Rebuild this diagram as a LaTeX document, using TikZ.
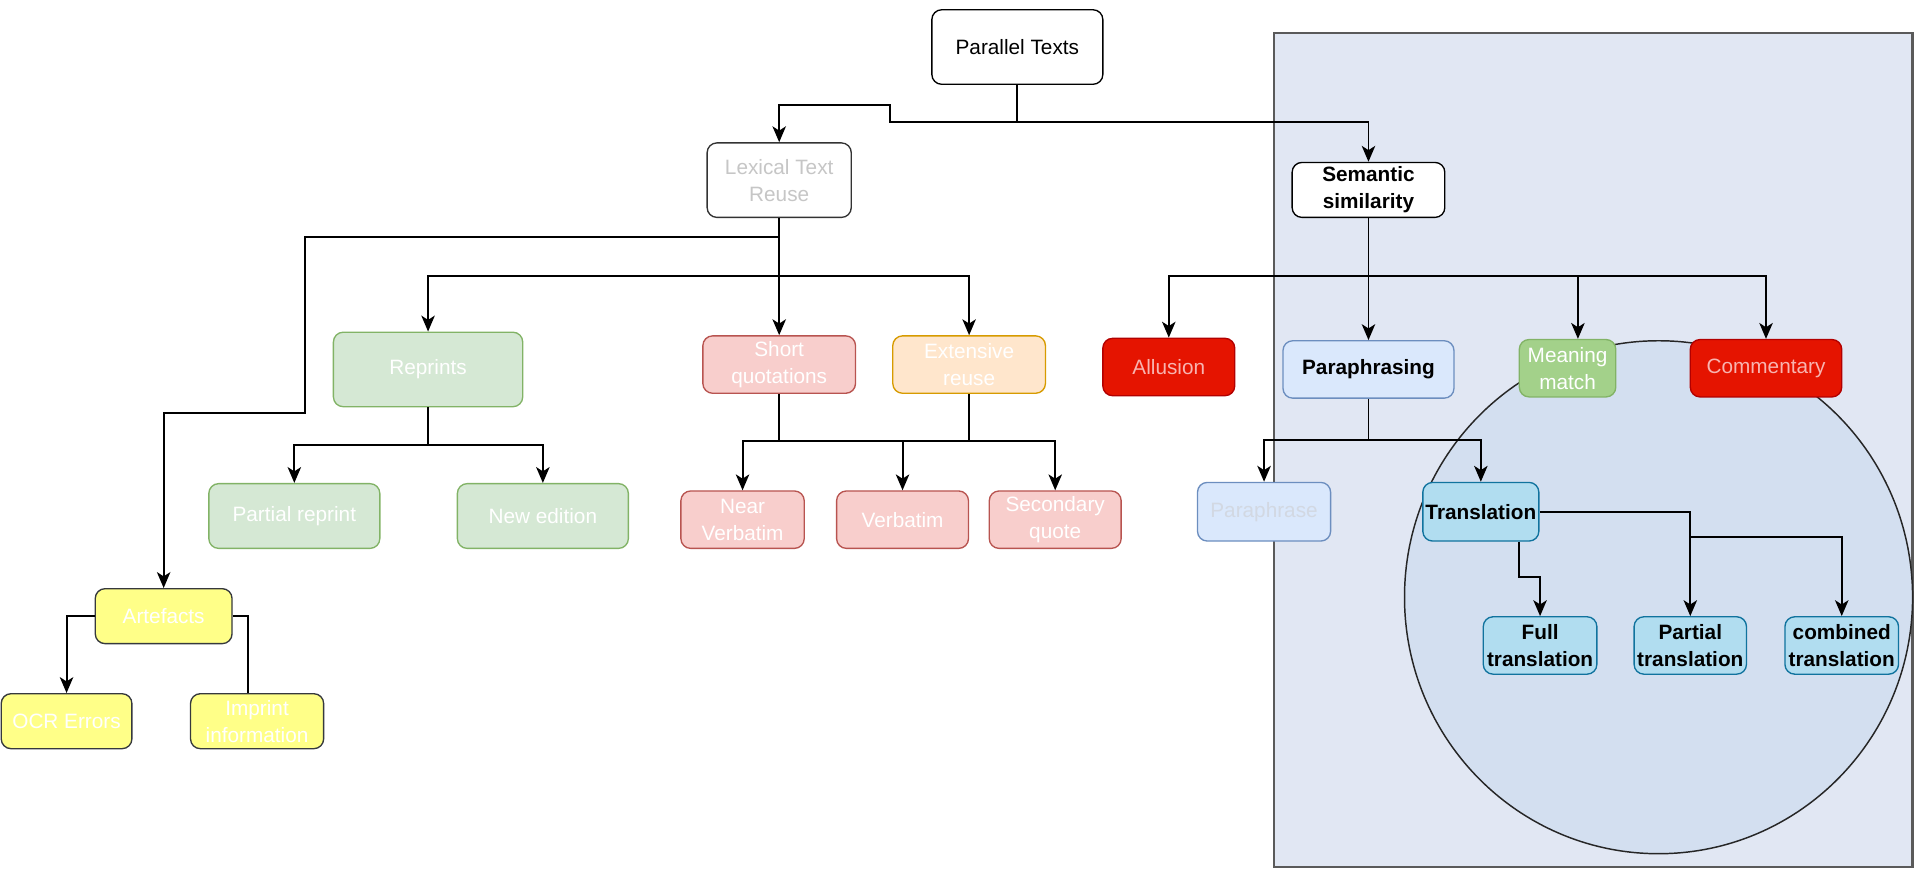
\documentclass[tikz,border=0pt]{standalone}
\usepackage{fontspec}
\setmainfont{Liberation Sans}
\usetikzlibrary{arrows.meta}

\definecolor{regionfill}{HTML}{E1E7F3}
\definecolor{regionline}{HTML}{5A5A5A}
\definecolor{circfill}{HTML}{D3DFF0}
\definecolor{greenfill}{HTML}{D5E8D4}
\definecolor{greenline}{HTML}{82B366}
\definecolor{mmfill}{HTML}{A3D18A}
\definecolor{pinkfill}{HTML}{F8CECC}
\definecolor{pinkline}{HTML}{B85450}
\definecolor{orangefill}{HTML}{FFE6CC}
\definecolor{orangeline}{HTML}{D79B00}
\definecolor{yellowfill}{HTML}{FFFF88}
\definecolor{yellowline}{HTML}{36393D}
\definecolor{redfill}{HTML}{E51400}
\definecolor{redline}{HTML}{B20000}
\definecolor{redtext}{HTML}{F8B4B0}
\definecolor{bluefill}{HTML}{DAE8FC}
\definecolor{blueline}{HTML}{6C8EBF}
\definecolor{cyanfill}{HTML}{B1DDF0}
\definecolor{cyanline}{HTML}{10739E}
\definecolor{fainttext}{HTML}{C6C6C6}
\definecolor{faintblue}{HTML}{D2D8E2}

\tikzset{
  box/.style={rounded corners=8pt, draw, line width=1.1pt, inner sep=0pt,
    align=center, font=\fontsize{17}{22}\selectfont},
  wh/.style 2 args={minimum width=#1pt, minimum height=#2pt},
  plain/.style={box, fill=white, draw=black, text=black},
  lexbox/.style={box, fill=white, draw=black!80, text=fainttext},
  semb/.style={box, fill=white, draw=black, text=black, font=\fontsize{17}{22}\selectfont\bfseries},
  greenb/.style={box, fill=greenfill, draw=greenline, text=white},
  mmb/.style={box, fill=mmfill, draw=greenline, text=white},
  pinkb/.style={box, fill=pinkfill, draw=pinkline, text=white},
  orangeb/.style={box, fill=orangefill, draw=orangeline, text=white},
  yellowb/.style={box, fill=yellowfill, draw=yellowline, text=white},
  redb/.style={box, fill=redfill, draw=redline, text=redtext},
  blueb/.style={box, fill=bluefill, draw=blueline, text=black, font=\fontsize{17}{22}\selectfont\bfseries},
  fblueb/.style={box, fill=bluefill, draw=blueline, text=faintblue},
  cyanb/.style={box, fill=cyanfill, draw=cyanline, text=black, font=\fontsize{17}{22}\selectfont\bfseries},
  conn/.style={line width=1.6pt, draw=black},
  arr/.style={conn, -{Stealth[length=13pt, width=11pt, inset=3.5pt]}},
}

\begin{document}
\begin{tikzpicture}[x=1pt, y=-1pt]
\useasboundingbox (0,0) rectangle (1568,713);

% semantic region and the translation circle
\draw[fill=regionfill, draw=regionline, line width=1.8pt] (1043,27) rectangle (1566,710);
\draw[fill=circfill, draw=black!85, line width=1.2pt] (1358,489) ellipse [x radius=208, y radius=210];

% top level
\node[plain, wh={140}{61}] (pt) at (833,38.5) {Parallel Texts};
\node[lexbox, wh={118}{61}] (lex) at (638,147.5) {Lexical Text\\Reuse};
\node[semb, wh={125}{45}] (sem) at (1120.5,155.5) {Semantic\\similarity};

% lexical text reuse branch
\node[greenb, wh={155}{61}] (rep) at (350.5,302.5) {Reprints};
\node[greenb, wh={140}{53}] (pr) at (241,422.5) {Partial reprint};
\node[greenb, wh={140}{53}] (ne) at (444.5,422.5) {New edition};
\node[pinkb, wh={125}{47}] (sq) at (638,298.5) {Short\\quotations};
\node[orangeb, wh={125}{47}] (er) at (793.5,298.5) {Extensive\\reuse};
\node[pinkb, wh={101}{47}] (nv) at (608,425.5) {Near\\Verbatim};
\node[pinkb, wh={108}{47}] (vb) at (739,425.5) {Verbatim};
\node[pinkb, wh={108}{47}] (sc) at (864,425.5) {Secondary\\quote};
\node[yellowb, wh={112}{45}] (art) at (134,504.5) {Artefacts};
\node[yellowb, wh={107}{45}] (ocr) at (54.5,590.5) {OCR Errors};
\node[yellowb, wh={109}{45}] (imp) at (210.5,590.5) {Imprint\\information};

% semantic similarity branch
\node[redb, wh={108}{47}] (all) at (957,300.5) {Allusion};
\node[blueb, wh={140}{47}] (para) at (1120.5,302.5) {Paraphrasing};
\node[mmb, wh={79}{47}] (mm) at (1283.5,301.5) {Meaning\\match};
\node[redb, wh={124}{47}] (com) at (1446,301.5) {Commentary};
\node[fblueb, wh={109}{48}] (phr) at (1035,419) {Paraphrase};
\node[cyanb, wh={95}{48}] (tr) at (1212.5,419) {Translation};
\node[cyanb, wh={93}{47}] (ft) at (1261,528.5) {Full\\translation};
\node[cyanb, wh={92}{47}] (ptr) at (1384,528.5) {Partial\\translation};
\node[cyanb, wh={93}{47}] (ct) at (1508,528.5) {combined\\translation};

% junction points
\coordinate (j0) at (833,100);
\coordinate (j1) at (729,86);
\coordinate (b1) at (638,226);
\coordinate (b0) at (638,194);
\coordinate (b2) at (638,361);
\coordinate (b3) at (793.5,361);
\coordinate (b4) at (1120.5,226);
\coordinate (b5) at (1120.5,360);
\coordinate (b6) at (350.5,364);
\coordinate (b7) at (1384,440);

% connectors
\draw[conn] (pt.south) -- (j0);
\draw[arr] (j0) -| (j1) -| (lex.north);
\draw[arr] (j0) -| (sem.north);

\draw[arr] (lex.south) -- (sq.north);
\draw[arr] (b1) -| (rep.north);
\draw[arr] (b1) -| (er.north);
\draw[arr] (b0) -| (250,338) -| (art.north);

\draw[conn] (rep.south) -- (b6);
\draw[arr] (b6) -| (pr.north);
\draw[arr] (b6) -| (ne.north);

\draw[conn] (sq.south) -- (b2);
\draw[conn] (er.south) -- (b3);
\draw[conn] (b2) -- (b3);
\draw[arr] (b2) -| (nv.north);
\draw[arr] (b2) -| (vb.north);
\draw[arr] (b3) -| (sc.north);

\draw[arr] (art.west) -| (ocr.north);
\draw[conn] (art.east) -| (imp.north -| 203,0);

\draw[arr] (sem.south) -- (para.north);
\draw[arr] (b4) -| (all.north);
\draw[arr] (b4) -| ([xshift=8.5pt]mm.north);
\draw[arr] (b4) -| (com.north);

\draw[conn] (para.south) -- (b5);
\draw[arr] (b5) -| (phr.north);
\draw[arr] (b5) -| (tr.north);

\draw[arr] ([xshift=31.5pt]tr.south) -- ++(0,29) -| (ft.north);
\draw[arr] (tr.east) -| (ptr.north);
\draw[arr] (b7) -| (ct.north);
\end{tikzpicture}
\end{document}
